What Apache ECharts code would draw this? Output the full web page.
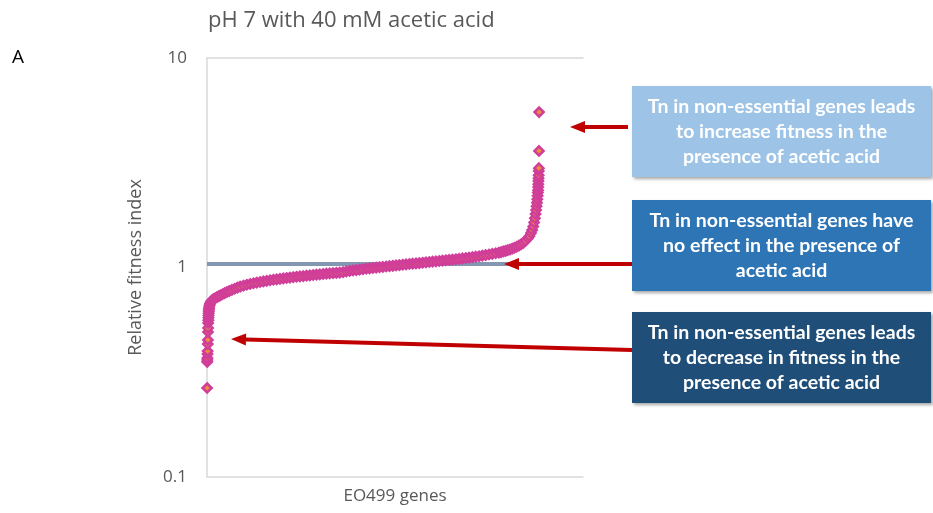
<!DOCTYPE html>
<html>
<head>
<meta charset="utf-8">
<script src="https://cdn.jsdelivr.net/npm/echarts@6/dist/echarts.min.js"></script>
<style>
  html, body { margin: 0; padding: 0; background: #ffffff; }
  #chart { width: 933px; height: 513px; }
</style>
</head>
<body>
<div id="chart"></div>
<script>
// Genes ranked by relative fitness index (subsampled along the ranking)
const geneRank = [
  1, 2, 3, 4, 5, 6, 7, 8, 9, 10, 11, 12, 13, 14, 15, 16, 17, 18, 20, 24, 28, 33, 40, 50, 60, 75, 90, 105, 120,
  140, 160, 180, 200, 225, 250, 275, 300, 330, 360, 390, 420, 450, 480, 510, 540, 570, 600, 630, 660, 690, 720,
  750, 780, 810, 840, 870, 900, 930, 960, 990, 1020, 1050, 1080, 1110, 1140, 1170, 1200, 1230, 1260, 1290, 1320,
  1350, 1380, 1410, 1440, 1470, 1500, 1530, 1560, 1590, 1620, 1650, 1680, 1710, 1740, 1770, 1800, 1830, 1860,
  1890, 1920, 1950, 1980, 2010, 2040, 2070, 2100, 2130, 2160, 2190, 2220, 2250, 2280, 2310, 2340, 2370, 2400,
  2430, 2460, 2490, 2520, 2550, 2580, 2610, 2640, 2660, 2680, 2700, 2720, 2740, 2760, 2780, 2800, 2820, 2840,
  2860, 2880, 2900, 2915, 2930, 2940, 2950, 2958, 2965, 2971, 2976, 2980, 2984, 2987, 2990, 2992, 2994, 2995,
  2996, 2997, 2998, 2999, 3000, 3001, 3002, 3003
];
const fitnessIndex = [
  0.266, 0.354, 0.362, 0.370, 0.386, 0.399, 0.431, 0.451, 0.492, 0.515, 0.543, 0.560, 0.575, 0.590, 0.603, 0.615,
  0.627, 0.638, 0.650, 0.662, 0.672, 0.682, 0.692, 0.700, 0.707, 0.715, 0.722, 0.729, 0.736,
  0.745, 0.755, 0.764, 0.772, 0.782, 0.792, 0.802, 0.811, 0.819, 0.827, 0.834, 0.841, 0.847, 0.853, 0.858, 0.864,
  0.869, 0.874, 0.878, 0.883, 0.887, 0.891,
  0.895, 0.899, 0.903, 0.907, 0.910, 0.914, 0.917, 0.921, 0.924, 0.927, 0.931, 0.934, 0.937, 0.940, 0.943, 0.946,
  0.950, 0.959, 0.963, 0.968,
  0.972, 0.977, 0.981, 0.986, 0.990, 0.995, 0.999, 1.003, 1.007, 1.011, 1.015, 1.019, 1.023, 1.027, 1.031, 1.035,
  1.039, 1.043,
  1.046, 1.050, 1.054, 1.058, 1.062, 1.066, 1.070, 1.074, 1.079, 1.083, 1.087, 1.091, 1.095, 1.100, 1.105, 1.110,
  1.115, 1.120,
  1.126, 1.132, 1.139, 1.146, 1.154, 1.162, 1.170, 1.178, 1.185, 1.193, 1.201, 1.210, 1.219, 1.230, 1.242, 1.256,
  1.272, 1.290,
  1.312, 1.340, 1.375, 1.41, 1.46, 1.51, 1.57, 1.64, 1.72, 1.80, 1.88, 1.96, 2.04, 2.12, 2.20, 2.28, 2.34, 2.42,
  2.50, 2.59, 2.67, 2.76, 2.89, 2.98, 3.60, 5.52
];
const yTicks = [0.1, 1, 10];
const neutralLevel = 1.04;

const titleText = 'pH 7 with 40 mM acetic acid';
const panelLabel = 'A';
const yAxisTitle = 'Relative fitness index';
const xAxisTitle = 'EO499 genes';
const boxTexts = [
  'Tn in non-essential genes leads\nto increase fitness in the\npresence of acetic acid',
  'Tn in non-essential genes have\nno effect in the presence of\nacetic acid',
  'Tn in non-essential genes leads\nto decrease in fitness in the\npresence of acetic acid'
];
const boxColors = ['#9dc3e6', '#2e75b6', '#1f4e79'];

const points = geneRank.map((r, i) => [r, fitnessIndex[i]]);

const chart = echarts.init(document.getElementById('chart'), null, { renderer: 'canvas' });

const labelFont = '"Open Sans", "Noto Sans", sans-serif';
const boxFont = 'Lato, "Open Sans", sans-serif';

// annotation arrow: shaft + head, pointing towards (x2, y2)
function arrow(x1, y1, x2, y2) {
  const ang = Math.atan2(y2 - y1, x2 - x1);
  const headLen = 15, headHalf = 6;
  const bx = x2 - headLen * Math.cos(ang), by = y2 - headLen * Math.sin(ang);
  const px = -Math.sin(ang) * headHalf, py = Math.cos(ang) * headHalf;
  return [
    { type: 'line', z: 20, shape: { x1: x1, y1: y1, x2: bx, y2: by },
      style: { stroke: '#c00000', lineWidth: 4 } },
    { type: 'polygon', z: 20, shape: { points: [[x2, y2], [bx + px, by + py], [bx - px, by - py]] },
      style: { fill: '#c00000' } }
  ];
}

const boxTops = [86, 200, 312];
const boxGraphics = [];
boxTops.forEach((top, i) => {
  boxGraphics.push({
    type: 'rect', z: 10,
    shape: { x: 632, y: top, width: 299, height: 91 },
    style: { fill: boxColors[i], shadowBlur: 3, shadowOffsetX: 2, shadowOffsetY: 2, shadowColor: 'rgba(0,0,0,0.35)' }
  });
  boxGraphics.push({
    type: 'text', z: 11,
    x: 632 + 299 / 2, y: top + 91 / 2,
    style: {
      text: boxTexts[i], fill: '#ffffff', font: 'bold 19.5px ' + boxFont,
      align: 'center', verticalAlign: 'middle', lineHeight: 25
    }
  });
});

const option = {
  backgroundColor: '#ffffff',
  animation: false,
  title: {
    text: titleText, left: 203, top: 5,
    textStyle: { color: '#595959', fontSize: 22, fontWeight: 'normal', fontFamily: labelFont }
  },
  grid: { left: 207, right: 350, top: 58, bottom: 36 },
  xAxis: [{
    type: 'value', min: 0, max: 3400,
    name: xAxisTitle, nameLocation: 'middle', nameGap: 11,
    nameTextStyle: { color: '#595959', fontSize: 17, fontFamily: labelFont },
    axisLine: { show: true, lineStyle: { color: '#d9d9d9', width: 1.5 } },
    axisTick: { show: false }, axisLabel: { show: false }, splitLine: { show: false }
  }, {
    type: 'value', min: 0, max: 3400, position: 'top',
    axisLine: { show: true, lineStyle: { color: '#d9d9d9', width: 1.5 } },
    axisTick: { show: false }, axisLabel: { show: false }, splitLine: { show: false }
  }],
  yAxis: {
    type: 'log', logBase: 10, min: yTicks[0], max: yTicks[yTicks.length - 1],
    name: yAxisTitle, nameLocation: 'middle', nameGap: 62, nameRotate: 90,
    nameTextStyle: { color: '#595959', fontSize: 18, fontFamily: labelFont },
    axisLine: { show: true, lineStyle: { color: '#d9d9d9', width: 1.5 } },
    axisTick: { show: false },
    axisLabel: { color: '#595959', fontSize: 17, fontFamily: labelFont, margin: 20,
      formatter: v => String(v) },
    splitLine: { show: false }
  },
  series: [{
    type: 'scatter',
    data: points,
    symbol: 'diamond',
    symbolSize: 9,
    itemStyle: { color: '#ec8f3a', borderColor: '#d03e99', borderWidth: 2.6, opacity: 1 },
    markLine: {
      silent: true, symbol: 'none', label: { show: false },
      lineStyle: { color: '#8497b0', width: 4, type: 'solid' },
      data: [{ yAxis: neutralLevel }],
      z: 1
    },
    z: 3
  }],
  graphic: [
    { type: 'text', left: 12, top: 48,
      style: { text: panelLabel, fill: '#000000', font: '19px ' + labelFont } }
  ].concat(boxGraphics)
   .concat(arrow(628, 127, 570, 127))
   .concat(arrow(632, 264, 504, 264))
   .concat(arrow(632, 350, 231, 339))
};

chart.setOption(option);
</script>
</body>
</html>
